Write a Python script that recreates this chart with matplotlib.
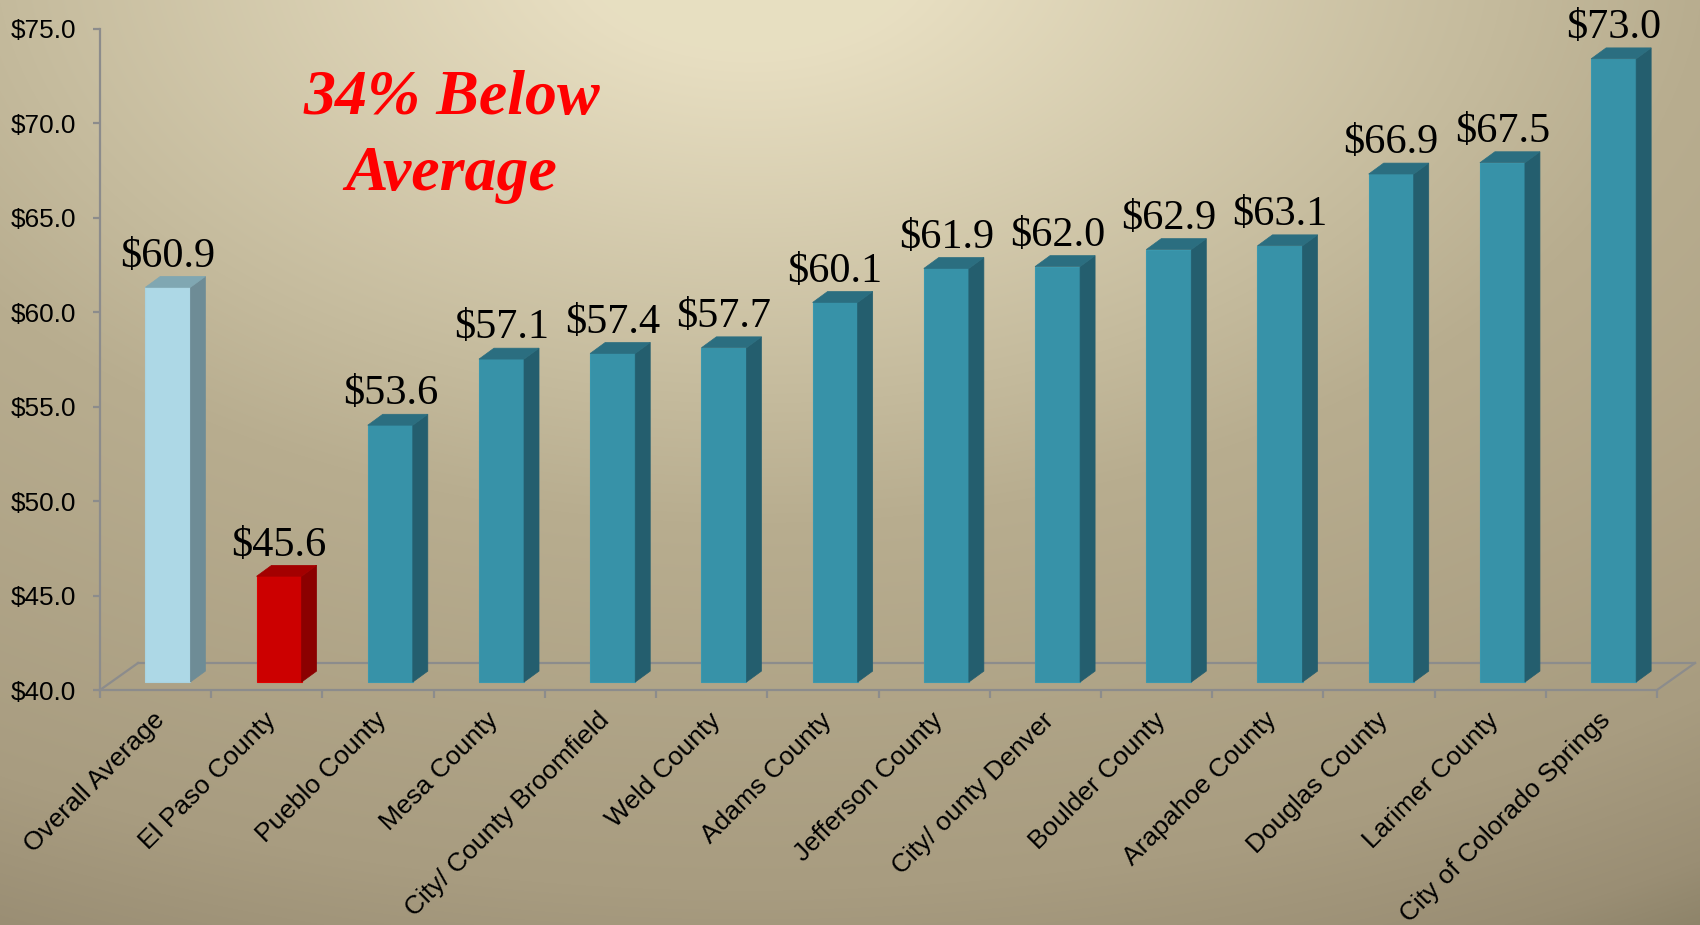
import numpy as np
import matplotlib
matplotlib.use("Agg")
import matplotlib.pyplot as plt
from matplotlib.patches import Polygon

# ---------------- data ----------------
categories = ["Overall Average", "El Paso County", "Pueblo County", "Mesa County",
              "City/ County Broomfield", "Weld County", "Adams County", "Jefferson County",
              "City/ ounty Denver", "Boulder County", "Arapahoe County", "Douglas County",
              "Larimer County", "City of Colorado Springs"]
values = [60.9, 45.6, 53.6, 57.1, 57.4, 57.7, 60.1, 61.9, 62.0, 62.9, 63.1, 66.9, 67.5, 73.0]
y_ticks = [40, 45, 50, 55, 60, 65, 70, 75]
callout_lines = ["34% Below", "Average"]

# ---------------- styles ----------------
W, H, DPI = 1700, 925, 100
front_colors = ["#ADD8E6", "#CC0000"] + ["#3792A8"] * (len(values) - 2)
side_colors = ["#6E8C96", "#8B0000"] + ["#245E6E"] * (len(values) - 2)
top_colors = ["#80A7B2", "#A30000"] + ["#2B6E80"] * (len(values) - 2)
edge_colors = ["#A9D3E0", "#E00000"] + ["#3A98AE"] * (len(values) - 2)
axis_gray = "#8C8C8C"

bar_shift = 0.11      # front-face centre offset from category centre
bar_w = 0.405
bar_lift = 0.42       # bars sit slightly behind the front floor line
depth_x, depth_y = 0.135, 0.58
floor_dx, floor_dy = 0.342, 1.43
ymin, ymax = 40, 75

fig = plt.figure(figsize=(W / DPI, H / DPI), dpi=DPI)

# background gradient
bg = fig.add_axes([0, 0, 1, 1], zorder=-10)
yy, xx = np.mgrid[0:H, 0:W]
d = np.sqrt((xx - 750.0) ** 2 + ((yy + 50.0) / 0.6) ** 2)
d_pts = [171, 755, 954, 1567, 1790, 1882]
cols = np.array([(232, 223, 194), (196, 186, 156), (184, 173, 143),
                 (168, 156, 128), (154, 142, 116), (142, 132, 106)]) / 255.0
img = np.dstack([np.interp(d, d_pts, cols[:, c]) for c in range(3)])
bg.imshow(img, aspect="auto", extent=[0, 1, 0, 1], origin="upper")
bg.axis("off")

ax = fig.add_axes([100 / W, (H - 690) / H, 1557 / W, 661 / H])
ax.set_facecolor("none")
n = len(values)
ax.set_xlim(-0.5, n - 0.5)
ax.set_ylim(ymin, ymax)

# floor (3D base)
ax.plot([-0.5 + floor_dx, n - 0.5 + floor_dx], [ymin + floor_dy] * 2, color=axis_gray,
        lw=1.6, clip_on=False, zorder=1)
ax.plot([-0.5, -0.5 + floor_dx], [ymin, ymin + floor_dy], color=axis_gray, lw=1.6,
        clip_on=False, zorder=1)
ax.plot([n - 0.5, n - 0.5 + floor_dx], [ymin, ymin + floor_dy], color=axis_gray, lw=1.6,
        clip_on=False, zorder=1)

# bars
xs = np.arange(n)
for i, v in enumerate(values):
    xl = xs[i] + bar_shift - bar_w / 2
    xr = xl + bar_w
    b = ymin + bar_lift
    t = v + bar_lift
    ax.bar(xs[i] + bar_shift, t - b, bottom=b, width=bar_w, color=front_colors[i],
           edgecolor=edge_colors[i], linewidth=0.8, zorder=3)
    ax.add_patch(Polygon([(xr, b), (xr, t), (xr + depth_x, t + depth_y), (xr + depth_x, b + depth_y)],
                         closed=True, facecolor=side_colors[i], edgecolor=side_colors[i],
                         linewidth=0.5, zorder=3))
    ax.add_patch(Polygon([(xl, t), (xr, t), (xr + depth_x, t + depth_y), (xl + depth_x, t + depth_y)],
                         closed=True, facecolor=top_colors[i], edgecolor=top_colors[i],
                         linewidth=0.5, zorder=3))
    ax.text(xs[i] + bar_shift, t + depth_y + 0.52, f"${v:.1f}", ha="center", va="baseline",
            fontsize=30.5, family="Liberation Serif", color="black", zorder=4)

# callout
ax.text(2.66, 70.5, callout_lines[0], ha="center", va="baseline", fontsize=46,
        family="Liberation Serif", weight="bold", style="italic", color="#FF0000")
ax.text(2.66, 66.47, callout_lines[1], ha="center", va="baseline", fontsize=46,
        family="Liberation Serif", weight="bold", style="italic", color="#FF0000")

# axes styling
for s in ["top", "right"]:
    ax.spines[s].set_visible(False)
for s in ["left", "bottom"]:
    ax.spines[s].set_color(axis_gray)
    ax.spines[s].set_linewidth(1.6)

ax.set_yticks(y_ticks)
ax.set_yticklabels([f"${t:.1f}" for t in y_ticks])
ax.tick_params(axis="y", length=5, width=1.6, color=axis_gray, pad=12,
               labelsize=18.8)
for lab in ax.get_yticklabels():
    lab.set_family("Liberation Sans")

ax.set_xticks(np.arange(-0.5, n, 1.0))
ax.set_xticklabels([])
ax.tick_params(axis="x", which="major", length=6, width=1.6, color=axis_gray)
ax.set_xticks(xs - 0.03, minor=True)
ax.set_xticklabels(categories, minor=True)
ax.tick_params(axis="x", which="minor", length=0, pad=13, labelsize=19.0)
for lab in ax.get_xticklabels(minor=True):
    lab.set_family("Liberation Sans")
    lab.set_rotation(45)
    lab.set_ha("right")
    lab.set_va("top")
    lab.set_rotation_mode("anchor")

fig.savefig("out.png", dpi=DPI)
